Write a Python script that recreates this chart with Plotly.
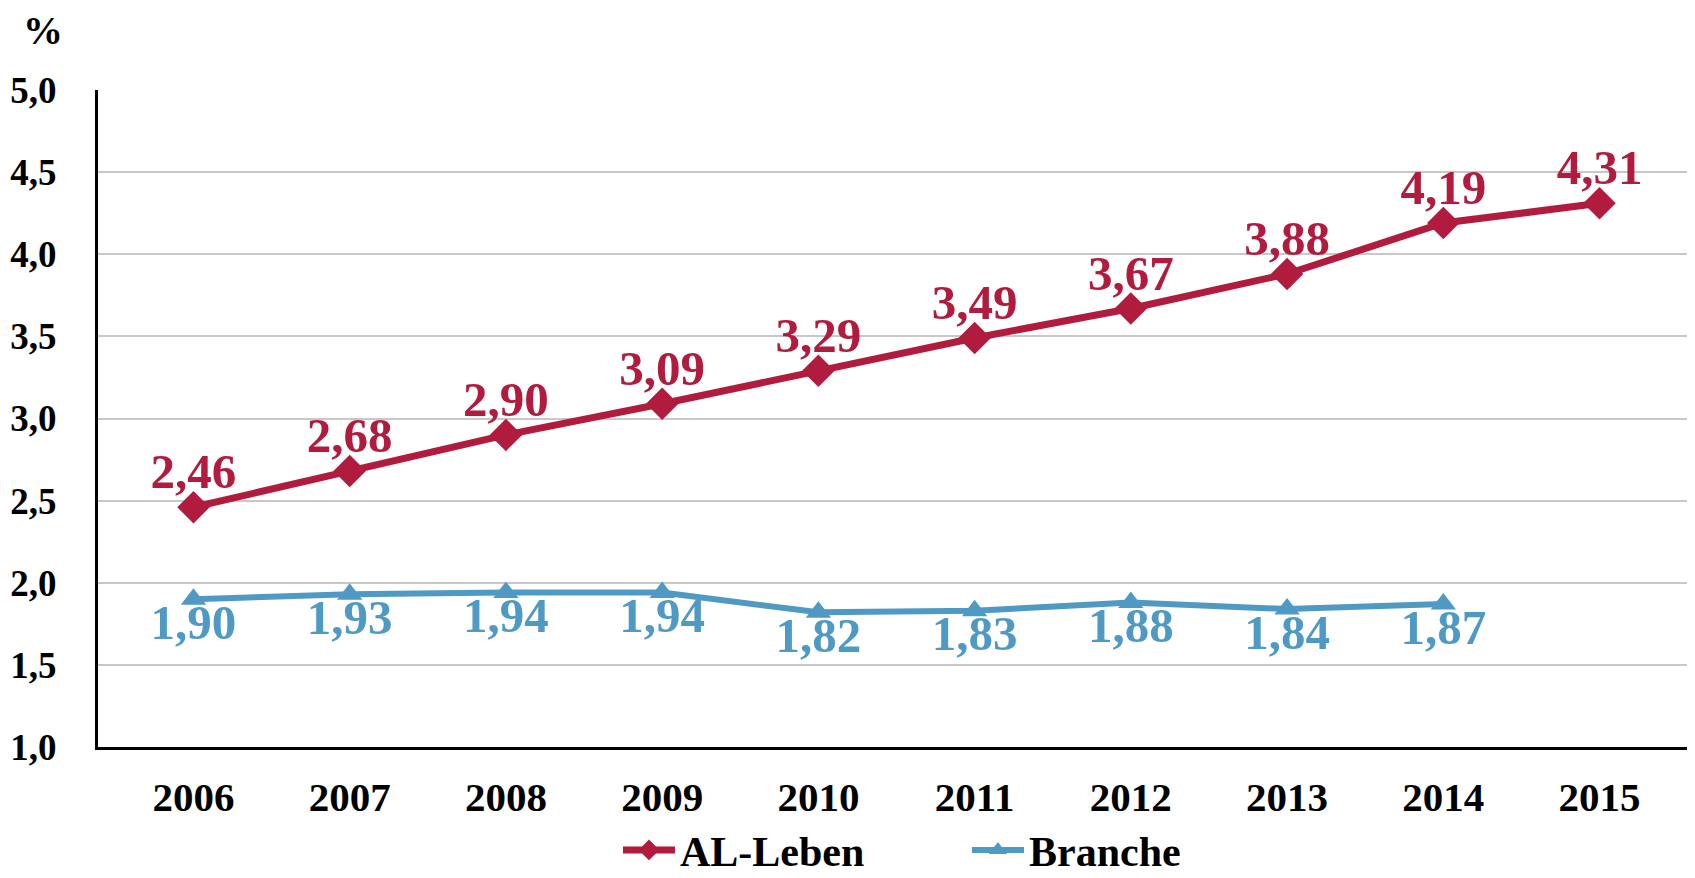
import plotly.graph_objects as go

#---
# data
#---
years = ['2006', '2007', '2008', '2009', '2010', '2011', '2012', '2013', '2014', '2015']
al_leben = [2.46, 2.68, 2.90, 3.09, 3.29, 3.49, 3.67, 3.88, 4.19, 4.31]
branche = [1.90, 1.93, 1.94, 1.94, 1.82, 1.83, 1.88, 1.84, 1.87, None]
y_ticks = [1.0, 1.5, 2.0, 2.5, 3.0, 3.5, 4.0, 4.5, 5.0]

RED = '#B01B3E'
BLUE = '#4F9AC4'
FONT = 'Liberation Serif'

# page body has an 8px margin, so the figure is a bit smaller than the window
W, H = 1687, 870


def label_font(color):
    return dict(family=FONT, size=49, color=color, weight='bold')


fig = go.Figure()

# lines + markers
fig.add_trace(go.Scatter(
    x=years, y=al_leben,
    name='AL-Leben',
    mode='lines+markers',
    line=dict(color=RED, width=7),
    marker=dict(symbol='diamond', size=25, color=RED),
))
fig.add_trace(go.Scatter(
    x=years, y=branche,
    name='Branche',
    mode='lines+markers',
    line=dict(color=BLUE, width=6),
    marker=dict(symbol='triangle-up', size=22, color=BLUE),
))

# value labels; invisible markers set the gap between point and text
fig.add_trace(go.Scatter(
    x=years, y=al_leben,
    mode='markers+text', showlegend=False, hoverinfo='skip',
    marker=dict(size=9, opacity=0),
    texttemplate='%{y:.2f}',
    textposition='top center',
    textfont=label_font(RED),
))
fig.add_trace(go.Scatter(
    x=years, y=branche,
    mode='markers+text', showlegend=False, hoverinfo='skip',
    marker=dict(size=3, opacity=0),
    texttemplate='%{y:.2f}',
    textposition='bottom center',
    textfont=label_font(BLUE),
))

fig.update_layout(
    width=W,
    height=H,
    margin=dict(l=90, r=0, t=82, b=131, autoexpand=False),
    plot_bgcolor='white',
    paper_bgcolor='white',
    separators=',.',
    font=dict(family=FONT, size=42, color='black', weight='bold'),
    showlegend=True,
    legend=dict(
        orientation='h',
        x=0.3256, xanchor='left',
        y=-0.157, yanchor='middle',
        font=dict(family=FONT, size=42, color='black', weight='bold'),
        entrywidth=282,
        itemwidth=52,
    ),
    annotations=[dict(
        text='%', xref='paper', yref='paper',
        x=-0.0345, y=1.091, xanchor='center', yanchor='middle',
        showarrow=False,
        font=dict(family=FONT, size=40, color='black', weight='bold'),
    )],
)

fig.update_xaxes(
    showline=True, linecolor='black', linewidth=3,
    showgrid=False, ticks='', automargin=False,
    ticklabelstandoff=12,
    tickfont=dict(family=FONT, size=41, color='black', weight='bold'),
)
fig.update_yaxes(
    range=[1.0, 5.0],
    tickvals=y_ticks,
    tickformat='.1f',
    showline=True, linecolor='black', linewidth=3,
    showgrid=True, gridcolor='#C8C8C8', gridwidth=2,
    zeroline=False, ticks='', automargin=False,
    ticklabelstandoff=31,
    tickfont=dict(family=FONT, size=37, color='black', weight='bold'),
)

fig.write_html("out.html")
